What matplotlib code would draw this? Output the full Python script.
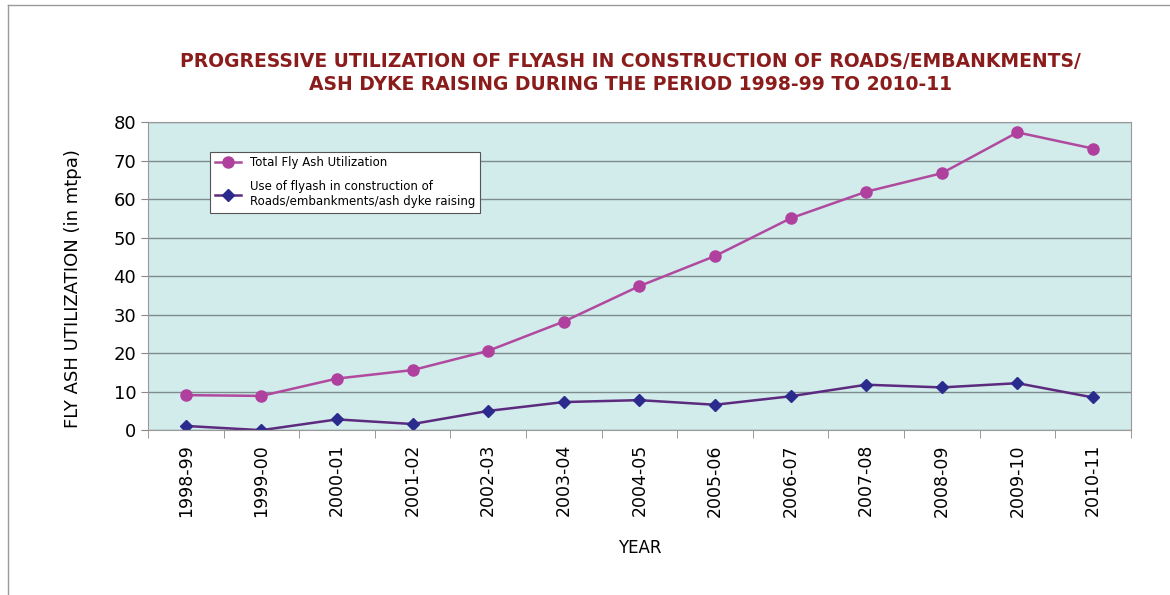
import numpy as np
import matplotlib.pyplot as plt
from matplotlib.lines import Line2D

# Data
years = ['1998-99', '1999-00', '2000-01', '2001-02', '2002-03', '2003-04', '2004-05',
         '2005-06', '2006-07', '2007-08', '2008-09', '2009-10', '2010-11']
total_util = [9.1, 8.9, 13.4, 15.6, 20.6, 28.2, 37.4, 45.2, 55.0, 61.9, 66.7, 77.3, 73.1]
roads_util = [1.1, 0.0, 2.8, 1.6, 5.0, 7.3, 7.8, 6.6, 8.8, 11.8, 11.1, 12.2, 8.5]

fig = plt.figure(figsize=(11.7, 5.95), dpi=100)
ax = fig.add_axes([0.1265, 0.277, 0.84, 0.518])
ax.set_facecolor('#d2ebeb')

x = np.arange(len(years))
ax.plot(x, total_util, color='#b04a9e', lw=1.8, marker='o', ms=8,
        mfc='#b0409e', mec='#b0409e', label='Total Fly Ash Utilization')
ax.plot(x, roads_util, color='#5c2a7e', lw=1.8, marker='D', ms=6,
        mfc='#2b2b8e', mec='#2b2b8e',
        label='Use of flyash in construction of\nRoads/embankments/ash dyke raising')

ax.set_ylim(0, 80)
ax.set_yticks(range(0, 81, 10))
ax.set_xlim(-0.5, len(years) - 0.5)
ax.set_xticks(x)
ax.set_xticklabels(years, rotation=90, fontsize=12.5)
ax.set_xticks(np.arange(-0.5, len(years)), minor=True)
ax.tick_params(axis='x', which='major', length=0, pad=10)
ax.tick_params(axis='x', which='minor', length=6, color='#888888')
ax.tick_params(axis='y', labelsize=13, length=5, color='#888888')
ax.yaxis.grid(True, color='#7f8c8c', lw=1)
ax.set_axisbelow(True)
for s in ax.spines.values():
    s.set_color('#999999')

ax.set_ylabel('FLY ASH UTILIZATION (in mtpa)', fontsize=13)
ax.yaxis.set_label_coords(-0.067, 0.46)
ax.set_xlabel('YEAR', fontsize=12, labelpad=16)

leg = ax.legend(loc='upper left', bbox_to_anchor=(0.057, 0.923), fontsize=8.5,
                frameon=True, fancybox=False, edgecolor='#555555',
                handlelength=2.2, borderpad=0.4, labelspacing=0.9)
leg.get_frame().set_linewidth(0.8)
leg.get_frame().set_facecolor('white')
leg.get_frame().set_alpha(1)

fig.text(0.539, 0.877, 'PROGRESSIVE UTILIZATION OF FLYASH IN CONSTRUCTION OF ROADS/EMBANKMENTS/\n'
         'ASH DYKE RAISING DURING THE PERIOD 1998-99 TO 2010-11',
         ha='center', va='center', fontsize=13.5, fontweight='bold', color='#8b1c1c',
         linespacing=1.25)

# page border
fig.add_artist(Line2D([8 / 1170, 8 / 1170], [0, 1 - 5 / 595], color='#999999', lw=1))
fig.add_artist(Line2D([8 / 1170, 1], [1 - 5 / 595, 1 - 5 / 595], color='#999999', lw=1))

fig.savefig('out.png', dpi=100)
